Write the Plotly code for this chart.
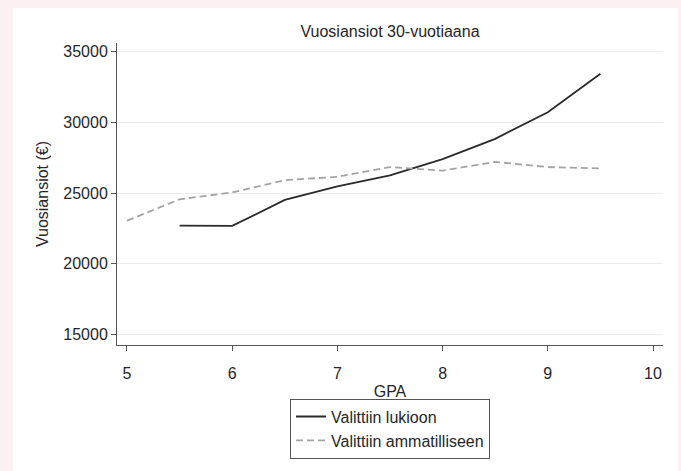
import plotly.graph_objects as go

lukio_x = [5.5, 6, 6.5, 7, 7.5, 8, 8.5, 9, 9.5]
lukio_y = [22700, 22680, 24520, 25480, 26260, 27410, 28840, 30720, 33440]
amm_x = [5, 5.5, 6, 6.5, 7, 7.5, 8, 8.5, 9, 9.5]
amm_y = [23050, 24560, 25050, 25920, 26150, 26840, 26590, 27210, 26840, 26750]

x_ticks = [5, 6, 7, 8, 9, 10]
y_ticks = [15000, 20000, 25000, 30000, 35000]
y_ticktext = ["15000", "20000", "25000", "30000", "35000"]

title_text = "Vuosiansiot 30-vuotiaana"
x_title = "GPA"
y_title = "Vuosiansiot (€)"
names = ["Valittiin lukioon", "Valittiin ammatilliseen"]

FONT = "Liberation Sans, Arial, sans-serif"
PINK = "#fcf0f0"

fig = go.Figure()
fig.add_trace(go.Scatter(x=lukio_x, y=lukio_y, mode="lines", name=names[0],
                         line=dict(color="#2a2a2a", width=1.8)))
fig.add_trace(go.Scatter(x=amm_x, y=amm_y, mode="lines", name=names[1],
                         line=dict(color="#a3a3a3", width=1.8, dash="7px,4px")))

L, R, T, B = 117, 18, 43, 118
W, H = 681, 471
pw = W - L - R
ph = H - T - B

def px_x(p):
    return (p - L) / pw

def px_y(p):
    return (H - B - p) / ph

# white panel over pink page
fig.add_shape(type="rect", xref="paper", yref="paper",
              x0=px_x(13), x1=px_x(678), y0=px_y(520), y1=px_y(7),
              fillcolor="white", line=dict(width=0), layer="below")

fig.update_layout(
    width=W, height=H,
    margin=dict(l=L, r=R, t=T, b=B),
    paper_bgcolor=PINK,
    plot_bgcolor="white",
    font=dict(family=FONT, size=16, color="#262626"),
    title=dict(text=title_text, x=0.5, xref="paper", xanchor="center",
               y=1 - 31 / H, yref="container", yanchor="middle",
               font=dict(size=16, color="#262626")),
    showlegend=True,
    legend=dict(x=0.5, xanchor="center", y=px_y(408), yanchor="top",
                bordercolor="#555555", borderwidth=1, bgcolor="white",
                font=dict(size=16, color="#262626"), tracegroupgap=0),
    xaxis=dict(range=[4.905, 10.095], tickvals=x_ticks, showgrid=False,
               zeroline=False, showline=True, linecolor="#555555", linewidth=1,
               ticks="outside", ticklen=5, tickcolor="#555555",
               tickfont=dict(size=16), ticklabelstandoff=9,
               title=dict(text=x_title, standoff=4, font=dict(size=16))),
    yaxis=dict(range=[14260, 35615], tickvals=y_ticks, ticktext=y_ticktext,
               showgrid=True, gridcolor="#ececec", gridwidth=1,
               zeroline=False, showline=True, linecolor="#555555", linewidth=1,
               ticks="outside", ticklen=5, tickcolor="#555555",
               tickfont=dict(size=16),
               title=dict(text=y_title, standoff=10, font=dict(size=16))),
)

fig.write_html("out.html", config={"displayModeBar": False},
               post_script="document.body.style.margin='0';"
                           "document.body.style.background='" + PINK + "';")
